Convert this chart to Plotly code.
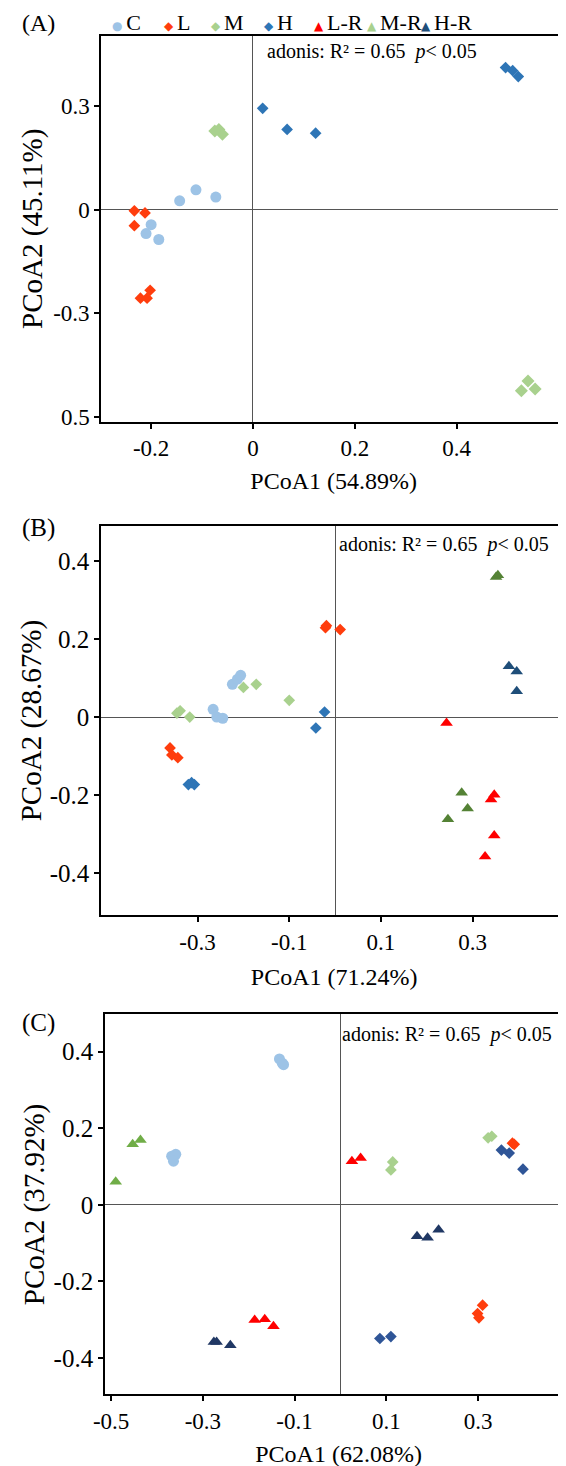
import plotly.graph_objects as go

# ---------------- data ----------------
# Panel A
A_C_x = [-0.144, -0.112, -0.073, -0.200, -0.210, -0.185]
A_C_y = [0.026, 0.058, 0.037, -0.043, -0.069, -0.086]
A_L_x = [-0.233, -0.212, -0.233, -0.221, -0.208, -0.202]
A_L_y = [-0.003, -0.009, -0.046, -0.256, -0.256, -0.233]
A_M_x = [-0.067, -0.060, -0.075, 0.540, 0.527, 0.554]
A_M_y = [0.233, 0.219, 0.228, -0.496, -0.524, -0.519]
A_H_x = [0.019, 0.067, 0.123, 0.496, 0.510, 0.521]
A_H_y = [0.294, 0.233, 0.222, 0.412, 0.403, 0.386]

# Panel B
B_C_x = [-0.224, -0.213, -0.206, -0.266, -0.258, -0.245]
B_C_y = [0.084, 0.097, 0.107, 0.020, 0.000, -0.003]
B_M_x = [-0.345, -0.338, -0.317, -0.200, -0.172, -0.100]
B_M_y = [0.010, 0.016, 0.000, 0.076, 0.084, 0.043]
B_L_x = [-0.021, -0.019, 0.011, -0.360, -0.356, -0.343]
B_L_y = [0.229, 0.234, 0.224, -0.079, -0.097, -0.104]
B_H_x = [-0.023, -0.042, -0.320, -0.307, -0.313]
B_H_y = [0.013, -0.028, -0.173, -0.173, -0.168]
B_LR_x = [0.243, 0.347, 0.340, 0.347, 0.327]
B_LR_y = [-0.015, -0.199, -0.211, -0.303, -0.357]
B_MR_x = [0.351, 0.355, 0.276, 0.289, 0.246]
B_MR_y = [0.359, 0.363, -0.194, -0.234, -0.262]
B_HR_x = [0.379, 0.396, 0.396]
B_HR_y = [0.130, 0.117, 0.066]

# Panel C
C_C_x = [-0.133, -0.127, -0.124, -0.368, -0.359, -0.364]
C_C_y = [0.381, 0.370, 0.366, 0.127, 0.132, 0.114]
C_M_x = [0.322, 0.330, 0.114, 0.110]
C_M_y = [0.175, 0.179, 0.112, 0.091]
C_L_x = [0.375, 0.379, 0.310, 0.299, 0.302]
C_L_y = [0.161, 0.158, -0.262, -0.284, -0.295]
C_H_x = [0.351, 0.368, 0.398, 0.086, 0.110]
C_H_y = [0.143, 0.135, 0.093, -0.349, -0.344]
C_LR_x = [0.025, 0.044, -0.187, -0.165, -0.146]
C_LR_y = [0.114, 0.122, -0.301, -0.299, -0.317]
C_MR_x = [-0.453, -0.436, -0.490]
C_MR_y = [0.158, 0.169, 0.060]
C_HR_x = [0.167, 0.190, 0.214, -0.276, -0.270, -0.240]
C_HR_y = [-0.082, -0.086, -0.065, -0.358, -0.358, -0.367]

groups = ["C", "L", "M", "H", "L-R", "M-R", "H-R"]

A_xticks = [-0.2, 0, 0.2, 0.4]
A_xtext = ["-0.2", "0", "0.2", "0.4"]
A_yticks = [0.3, 0, -0.3, -0.6]
A_ytext = ["0.3", "0", "-0.3", "0.5"]
B_xticks = [-0.3, -0.1, 0.1, 0.3, 0.5]
B_xtext = ["-0.3", "-0.1", "0.1", "0.3", "0.5"]
B_yticks = [0.4, 0.2, 0, -0.2, -0.4]
B_ytext = ["0.4", "0.2", "0", "-0.2", "-0.4"]
C_xticks = [-0.5, -0.3, -0.1, 0.1, 0.3]
C_xtext = ["-0.5", "-0.3", "-0.1", "0.1", "0.3"]
C_yticks = [0.4, 0.2, 0, -0.2, -0.4]
C_ytext = ["0.4", "0.2", "0", "-0.2", "-0.4"]

# ---------------- styles ----------------
FONT = "Liberation Serif, Times New Roman, serif"
COL = {"C": "#9DC3E6", "L": "#FF3D0D", "M": "#A9D18E", "H": "#2E75B6",
       "L-R": "#FF0000", "M-R": "#A9D18E", "H-R": "#1F4E79"}

fig = go.Figure()


def add(x, y, name, color, symbol, size, ax):
    fig.add_trace(go.Scatter(
        x=x, y=y, mode="markers", name=name, showlegend=False,
        marker=dict(color=color, symbol=symbol, size=size, line=dict(width=0)),
        xaxis="x" + ax, yaxis="y" + ax))


add(A_C_x, A_C_y, "C", COL["C"], "circle", 11, "")
add(A_L_x, A_L_y, "L", COL["L"], "diamond", 9, "")
add(A_M_x, A_M_y, "M", COL["M"], "diamond", 10, "")
add(A_H_x, A_H_y, "H", COL["H"], "diamond", 9, "")

add(B_C_x, B_C_y, "C", COL["C"], "circle", 11, "2")
add(B_M_x, B_M_y, "M", COL["M"], "diamond", 9, "2")
add(B_L_x, B_L_y, "L", COL["L"], "diamond", 9, "2")
add(B_H_x, B_H_y, "H", COL["H"], "diamond", 9, "2")
add(B_LR_x, B_LR_y, "L-R", COL["L-R"], "triangle-up", 11, "2")
add(B_MR_x, B_MR_y, "M-R", "#548235", "triangle-up", 11, "2")
add(B_HR_x, B_HR_y, "H-R", COL["H-R"], "triangle-up", 11, "2")

add(C_C_x, C_C_y, "C", COL["C"], "circle", 11, "3")
add(C_M_x, C_M_y, "M", COL["M"], "diamond", 9, "3")
add(C_L_x, C_L_y, "L", COL["L"], "diamond", 9, "3")
add(C_H_x, C_H_y, "H", "#2F5597", "diamond", 9, "3")
add(C_LR_x, C_LR_y, "L-R", COL["L-R"], "triangle-up", 11, "3")
add(C_MR_x, C_MR_y, "M-R", "#70AD47", "triangle-up", 11, "3")
add(C_HR_x, C_HR_y, "H-R", "#203864", "triangle-up", 11, "3")

W, H = 566, 1466


def px_x(p):
    return p / W


def px_y(p):
    return 1 - p / H


def axis(domain, rng, tv, tt, title, standoff, anchor, tsize, titlesize):
    return dict(domain=domain, range=rng, tickvals=tv, ticktext=tt,
                showgrid=False, zeroline=True, zerolinecolor="#555555", zerolinewidth=1,
                showline=True, linecolor="black", linewidth=2, mirror=True,
                ticks="outside", ticklen=5, tickwidth=1.5, tickcolor="black",
                tickfont=dict(family=FONT, size=tsize, color="black"),
                title=dict(text=title, font=dict(family=FONT, size=titlesize, color="black"),
                           standoff=standoff),
                anchor=anchor, fixedrange=True)


layout = dict(
    width=W, height=H, margin=dict(l=0, r=0, t=0, b=0),
    paper_bgcolor="white", plot_bgcolor="white", showlegend=False,
    xaxis=axis([px_x(83), px_x(558)], [-0.298, 0.615], A_xticks, A_xtext,
               "PCoA1 (54.89%)", 12, "y", 23, 24),
    yaxis=axis([px_y(416), px_y(28)], [-0.614, 0.504], A_yticks, A_ytext,
               "PCoA2 (45.11%)", 2, "x", 23, 29),
    xaxis2=axis([px_x(83), px_x(559)], [-0.510, 0.506], B_xticks, B_xtext,
                "PCoA1 (71.24%)", 15, "y2", 23, 24),
    yaxis2=axis([px_y(912), px_y(521)], [-0.507, 0.489], B_yticks, B_ytext,
                "PCoA2 (28.67%)", 0, "x2", 25, 29),
    xaxis3=axis([px_x(87), px_x(564)], [-0.513, 0.505], C_xticks, C_xtext,
                "PCoA1 (62.08%)", 12, "y3", 23, 24),
    yaxis3=axis([px_y(1394), px_y(1012)], [-0.495, 0.497], C_yticks, C_ytext,
                "PCoA2 (37.92%)", 0, "x3", 25, 29),
)
fig.update_layout(**layout)

# adonis labels and panel tags
ann = []
ann.append(dict(text="(A)", x=0, y=1, xref="paper", yref="paper",
                xanchor="left", yanchor="top", showarrow=False,
                font=dict(family=FONT, size=24, color="black")))
for tag, ytag in [("(B)", 523), ("(C)", 1021)]:
    ann.append(dict(text=tag, x=0, y=px_y(ytag), xref="paper", yref="paper",
                    xanchor="left", yanchor="middle", showarrow=False,
                    font=dict(family=FONT, size=25, color="black")))
for xa, ya in [(250, 44), (324, 539), (327, 1032)]:
    ann.append(dict(text="adonis: R² = 0.65  <i>p</i>< 0.05", x=px_x(xa), y=px_y(ya),
                    xref="paper", yref="paper", xanchor="left", yanchor="middle",
                    showarrow=False, font=dict(family=FONT, size=20, color="black")))

# legend row (symbol + label)
leg_sym = {"C": "●", "L": "◆", "M": "◆", "H": "◆", "L-R": "▲", "M-R": "▲", "H-R": "▲"}
leg_center = {"C": 98, "L": 151, "M": 199, "H": 253, "L-R": 304, "M-R": 358, "H-R": 414}
for g in groups:
    ann.append(dict(
        text=(f'<span style="color:{COL[g]};font-size:12px;font-family:DejaVu Sans">'
              f'{leg_sym[g]} </span>{g}'),
        x=px_x(leg_center[g] - 6), y=1, xref="paper", yref="paper",
        xanchor="left", yanchor="top", showarrow=False,
        font=dict(family=FONT, size=22, color="black")))
fig.update_layout(annotations=ann)

fig.write_html("out.html")
